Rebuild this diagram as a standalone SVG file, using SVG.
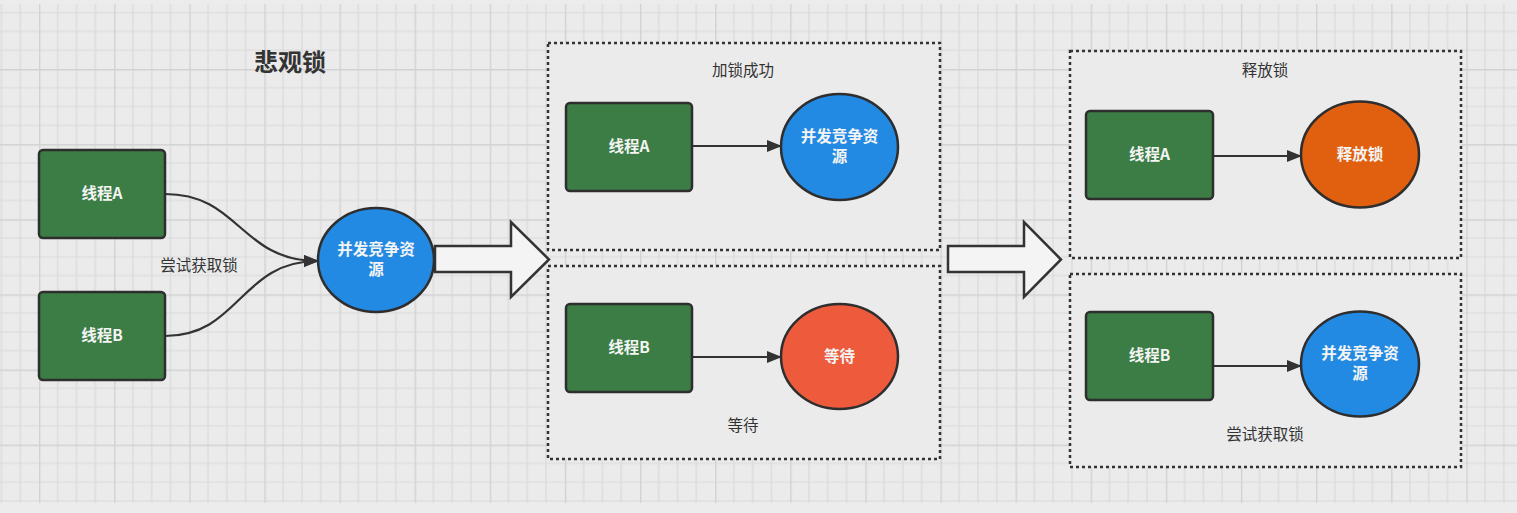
<svg xmlns="http://www.w3.org/2000/svg" width="1517" height="513" viewBox="0 0 1517 513">
<defs>
<pattern id="grid" patternUnits="userSpaceOnUse" x="39" y="69" width="75.12" height="75.12">
<path d="M18.78 0V75.12M37.56 0V75.12M56.34 0V75.12M0 18.78H75.12M0 37.56H75.12M0 56.34H75.12" stroke="#dadada" stroke-width="1.2" fill="none"/>
<path d="M0.6 0V75.12M0 0.6H75.12" stroke="#d2d2d2" stroke-width="1.6" fill="none"/>
</pattern>
<marker id="arr" viewBox="0 0 15 12" refX="14" refY="6" markerWidth="15" markerHeight="12" markerUnits="userSpaceOnUse" orient="auto">
<path d="M0 0L15 6L0 12Z" fill="#333"/>
</marker>
<style>
.thread{fill:#3b7d44;stroke:#2e2e2e;stroke-width:2.5}
.res{fill:#238ae3;stroke:#2e2e2e;stroke-width:2.5}
.wait{fill:#ee5a3c;stroke:#2e2e2e;stroke-width:2.5}
.rel{fill:#e0600f;stroke:#2e2e2e;stroke-width:2.5}
.nt{font-family:"Noto Sans CJK SC","Liberation Sans",sans-serif;font-size:15.5px;font-weight:bold;fill:#f4f4f4;text-anchor:middle}
.lbl{font-family:"Noto Sans CJK SC","Liberation Sans",sans-serif;font-size:15.5px;fill:#333;text-anchor:middle}
.title{font-family:"Noto Sans CJK SC","Liberation Sans",sans-serif;font-size:24px;font-weight:bold;fill:#333;text-anchor:middle}
.panel{fill:#ebebeb;stroke:#333;stroke-width:2.5;stroke-dasharray:3 3}
.conn{fill:none;stroke:#333;stroke-width:2.2}
.big{fill:#f4f4f4;stroke:#333;stroke-width:2.5;stroke-linejoin:miter}
</style>
</defs>
<rect x="0" y="0" width="1517" height="513" fill="#ececec"/>
<rect x="0" y="4" width="1517" height="499" fill="#ebebeb"/>
<rect x="0" y="4" width="1517" height="499" fill="url(#grid)"/>

<text class="title" x="290" y="71">悲观锁</text>

<g id="panel-lock-ok"><rect class="panel" x="548" y="43" width="392" height="207"/><text class="lbl" x="743" y="76">加锁成功</text></g>
<g id="panel-wait"><rect class="panel" x="548" y="266" width="392" height="193"/><text class="lbl" x="743" y="431">等待</text></g>
<g id="panel-release"><rect class="panel" x="1070" y="51" width="391" height="207"/><text class="lbl" x="1265" y="76">释放锁</text></g>
<g id="panel-try"><rect class="panel" x="1070" y="274" width="391" height="193"/><text class="lbl" x="1265" y="440">尝试获取锁</text></g>

<g id="connectors">
<path class="conn" d="M165 194C240 194 240 261 318 261" marker-end="url(#arr)"/>
<path class="conn" d="M165 336C240 336 240 261 318 261" marker-end="url(#arr)"/>
<text class="lbl" x="199" y="271">尝试获取锁</text>
<path class="conn" d="M692 146H781" marker-end="url(#arr)"/>
<path class="conn" d="M692 357H781" marker-end="url(#arr)"/>
<path class="conn" d="M1213 156H1301" marker-end="url(#arr)"/>
<path class="conn" d="M1213 366H1301" marker-end="url(#arr)"/>
<path class="big" d="M435 246H511V222L549 259.5L511 297V272H435Z"/>
<path class="big" d="M948 246H1024V222L1061 259.5L1024 297V272H948Z"/>
</g>

<g id="threadA1"><rect class="thread" x="39" y="150" width="126" height="88" rx="4"/><text class="nt" x="102" y="199">线程A</text></g>
<g id="threadB1"><rect class="thread" x="39" y="292" width="126" height="88" rx="4"/><text class="nt" x="102" y="341">线程B</text></g>
<g id="res1"><ellipse class="res" cx="376" cy="260" rx="58" ry="52"/><text class="nt" x="376" y="255">并发竞争资</text><text class="nt" x="376" y="275">源</text></g>

<g id="threadA2"><rect class="thread" x="566" y="103" width="126" height="88" rx="4"/><text class="nt" x="629" y="152">线程A</text></g>
<g id="res2"><ellipse class="res" cx="839.5" cy="147" rx="58.5" ry="53"/><text class="nt" x="839.5" y="142">并发竞争资</text><text class="nt" x="839.5" y="162">源</text></g>
<g id="threadB2"><rect class="thread" x="566" y="304" width="126" height="88" rx="4"/><text class="nt" x="629" y="353">线程B</text></g>
<g id="wait2"><ellipse class="wait" cx="839.5" cy="356.5" rx="58.5" ry="52.5"/><text class="nt" x="839.5" y="362">等待</text></g>

<g id="threadA3"><rect class="thread" x="1086" y="111" width="127" height="88" rx="4"/><text class="nt" x="1149.5" y="160">线程A</text></g>
<g id="rel3"><ellipse class="rel" cx="1360" cy="154.5" rx="59" ry="53"/><text class="nt" x="1360" y="160">释放锁</text></g>
<g id="threadB3"><rect class="thread" x="1086" y="312" width="127" height="88" rx="4"/><text class="nt" x="1149.5" y="361">线程B</text></g>
<g id="res3"><ellipse class="res" cx="1360" cy="364" rx="59" ry="52.5"/><text class="nt" x="1360" y="359">并发竞争资</text><text class="nt" x="1360" y="379">源</text></g>
</svg>
